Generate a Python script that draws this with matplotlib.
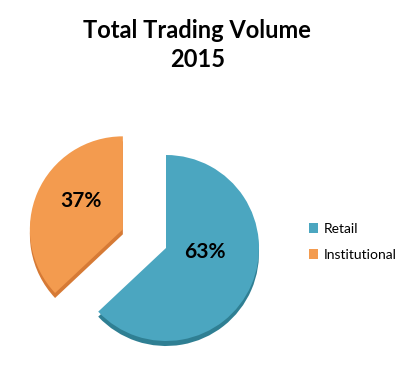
import matplotlib
matplotlib.use("Agg")
import matplotlib.pyplot as plt

categories = ["Retail", "Institutional"]
values = [63, 37]
colors = ["#4BA6C0", "#F39B4F"]
side_colors = ["#2F7F93", "#D67A35"]
title = "Total Trading Volume\n2015"

plt.rcParams['font.family'] = ['Lato', 'DejaVu Sans']

fig = plt.figure(figsize=(4.2, 3.8), dpi=100)
ax = fig.add_axes([0, 0, 1, 1])

center = (166, 132)
radius = 93
explode = [0, 47]

# 3D side (darker copy shifted down)
ax.pie(values, colors=side_colors, startangle=90, counterclock=False,
       center=(center[0], center[1] - 5), radius=radius, explode=explode,
       frame=True)
wedges, texts, autotexts = ax.pie(values, colors=colors, startangle=90, counterclock=False,
                                  center=center, radius=radius, explode=explode,
                                  autopct='%d%%', pctdistance=0.45, frame=True,
                                  textprops=dict(fontsize=15, fontweight='bold', color='black'))
ax.set_xlim(0, 420)
ax.set_ylim(0, 380)
ax.set_aspect('equal')
ax.axis('off')

autotexts[0].set_position((205, 380 - 252))
autotexts[1].set_position((81, 380 - 201))

fig.text(0.47, 1 - 45 / 380, title, ha='center', va='center', fontsize=17,
         fontweight='bold', linespacing=1.35)

leg = ax.legend(wedges, categories, loc='center left', bbox_to_anchor=(296 / 420, 1 - 242 / 380),
                bbox_transform=fig.transFigure, frameon=False, fontsize=10,
                handlelength=0.7, handleheight=0.7, handletextpad=0.4, labelspacing=1.0)

fig.savefig("out.png", dpi=100)
